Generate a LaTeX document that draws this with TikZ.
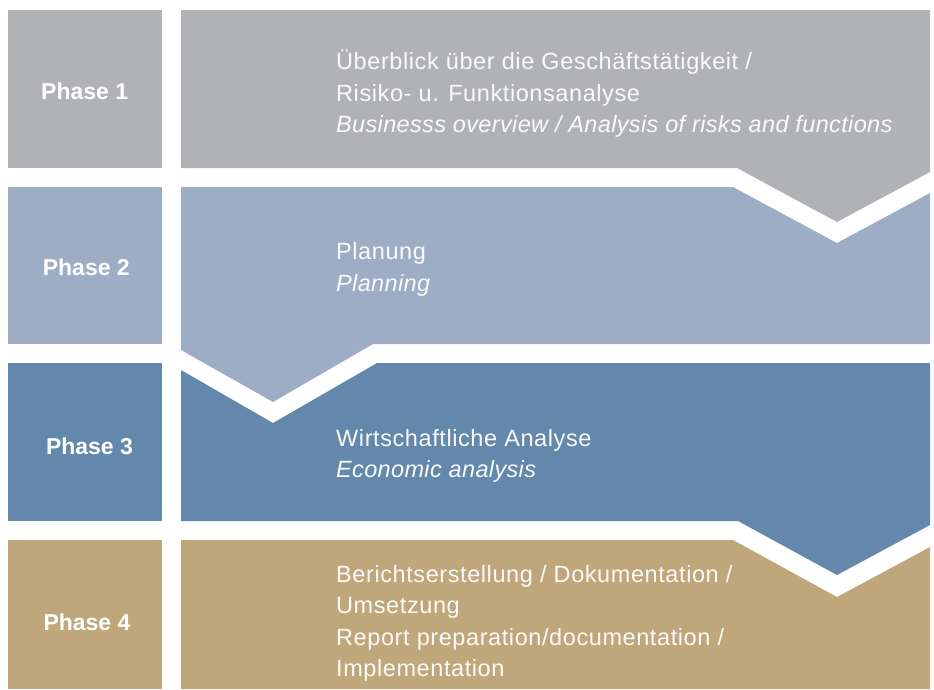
\documentclass[tikz,border=0pt]{standalone}
\usepackage{fontspec}
\setmainfont{Liberation Sans}
\definecolor{cgray}{HTML}{B1B2B6}
\definecolor{clblue}{HTML}{9DADC5}
\definecolor{cblue}{HTML}{6388AC}
\definecolor{cgold}{HTML}{BFA77B}
\definecolor{ctext}{HTML}{FAFAFA}
\tikzset{
  phaselabel/.style={anchor=base, text=white, inner sep=0pt, font=\fontsize{23}{28}\bfseries\selectfont},
  descline/.style={anchor=base west, text=ctext, inner sep=0pt, font=\fontsize{23.5}{32}\selectfont\addfontfeature{LetterSpace=2.5}},
  descital/.style={descline, font=\fontsize{23.5}{32}\itshape\selectfont\addfontfeature{LetterSpace=1.5}},
}
\begin{document}
\begin{tikzpicture}[x=1pt,y=-1pt]
\useasboundingbox (0,0) rectangle (934,689);
% left phase boxes
\fill[cgray]  (8,10)  rectangle (162,168);
\fill[clblue] (8,187) rectangle (162,344);
\fill[cblue]  (8,363) rectangle (162,521);
\fill[cgold]  (8,540) rectangle (162,689);
% right chevron bands
\fill[cgray] (181,10) -- (930,10) -- (930,172) -- (837,222) -- (737,168) -- (181,168) -- cycle;
\fill[clblue] (181,187) -- (733,187) -- (837,243) -- (930,193) -- (930,344) -- (373,344) -- (273,402) -- (181,350) -- cycle;
\fill[cblue] (181,370) -- (273,423) -- (377,363) -- (930,363) -- (930,525) -- (837,575) -- (738,521) -- (181,521) -- cycle;
\fill[cgold] (181,540) -- (733,540) -- (837,597) -- (930,547) -- (930,689) -- (181,689) -- cycle;
% phase labels
\node[phaselabel] (p1) at (84.7,99.3) {Phase 1};
\node[phaselabel] (p2) at (86.3,275) {Phase 2};
\node[phaselabel] (p3) at (89.5,454) {Phase 3};
\node[phaselabel] (p4) at (87,630) {Phase 4};
% descriptions
\node[descline] (d1a) at (336,69) {Überblick über die Geschäftstätigkeit /};
\node[descline] (d1b) at (336,101) {Risiko- u. Funktionsanalyse};
\node[descital] (d1c) at (336,132) {Businesss overview / Analysis of risks and functions};
\node[descline] (d2a) at (336,259) {Planung};
\node[descital] (d2b) at (336,291) {Planning};
\node[descline] (d3a) at (336,446) {Wirtschaftliche Analyse};
\node[descital] (d3b) at (336,477) {Economic analysis};
\node[descline] (d4a) at (336,582) {Berichtserstellung / Dokumentation /};
\node[descline] (d4b) at (336,613) {Umsetzung};
\node[descline] (d4c) at (336,645) {Report preparation/documentation /};
\node[descline] (d4d) at (336,676) {Implementation};
\end{tikzpicture}
\end{document}
